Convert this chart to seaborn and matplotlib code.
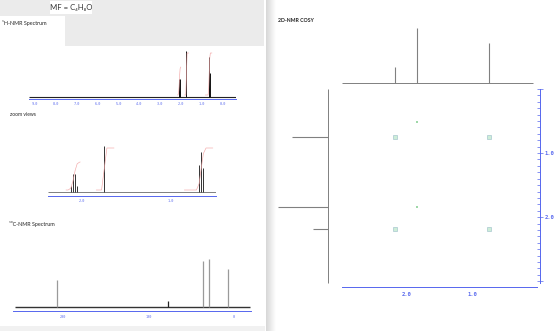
import numpy as np
import pandas as pd
import matplotlib
matplotlib.use("Agg")
import matplotlib.pyplot as plt
import seaborn as sns
from matplotlib.patches import Rectangle
from matplotlib.ticker import MultipleLocator

# ---------------- data ----------------
formula_text = "MF = C₄H₈O"
h1_title = "¹H-NMR Spectrum"
zoom_title = "zoom views"
c13_title = "¹³C-NMR Spectrum"
cosy_title = "2D-NMR COSY"

# 1H lines (ppm as labelled on the chart axis) and heights
h_ppm = [2.126, 2.102, 2.078, 2.054, 1.750, 0.684, 0.660, 0.636]
h_height = [6, 18, 18, 6, 46, 27, 40, 24]
h_group = ["q", "q", "q", "q", "s", "t", "t", "t"]

# integration curves
integ_group = ["q", "s", "t"]
integ_start = [2.18, 1.84, 0.85]
integ_end = [2.02, 1.64, 0.53]
integ_value = [2, 3, 3]

h_full_ticks = [9.0, 8.0, 7.0, 6.0, 5.0, 4.0, 3.0, 2.0, 1.0, 0.0]
h_full_labels = ["9.0", "8.0", "7.0", "6.0", "5.0", "4.0", "3.0", "2.0", "1.0", "0.0"]
h_zoom_ticks = [2.0, 1.0]
h_zoom_labels = ["2.0", "1.0"]

# 13C lines
c_ppm = [207.0, 77.0, 36.5, 29.3, 7.2]
c_height = [27, 6, 46, 48, 38]
c_solvent = [False, True, False, False, False]
c_ticks = [200, 100, 0]
c_labels = ["200", "100", "0"]

# COSY
cosy_ppm = [2.18, 1.845, 0.745]
cosy_proj = [16, 55, 40]
cross_f2 = [2.18, 0.745, 2.18, 0.745, 1.845, 1.845]
cross_f1 = [0.745, 0.745, 2.18, 2.18, 1.845, 0.52]
cross_kind = ["strong", "strong", "strong", "strong", "weak", "weak"]
cosy_ticks = [2.0, 1.0]
cosy_labels = ["2.0", "1.0"]

# ---------------- style ----------------
sns.set_style("white")
plt.rcParams["font.family"] = ["Lato", "DejaVu Sans"]

W, H = 560, 331
BLUE = "#5566ee"
RED = "#f3a8a8"
MONO = "DejaVu Sans Mono"

fig = plt.figure(figsize=(W / 100, H / 100), dpi=100)
fig.patch.set_facecolor("white")


def px_axes(x0, y0, x1, y1):
    ax = fig.add_axes([x0 / W, 1 - y1 / H, (x1 - x0) / W, (y1 - y0) / H])
    ax.set_facecolor("none")
    return ax


def px_rect(x0, y0, x1, y1, color):
    fig.add_artist(Rectangle((x0 / W, 1 - y1 / H), (x1 - x0) / W, (y1 - y0) / H,
                             transform=fig.transFigure, color=color, lw=0, zorder=0))


def px_text(x, y, s, **kw):
    fig.text(x / W, 1 - y / H, s, va="center", ha="left", **kw)


# backgrounds
GRAY = "#ebebeb"
px_rect(0, 0, 264, 16, GRAY)
px_rect(65, 16, 264, 46, GRAY)
px_rect(50, 1, 92, 14, "white")
px_rect(0, 326, 265, 331, "#f1f1f1")
grad_ax = px_axes(265.5, 0, 275, 331)
grad_ax.imshow(np.linspace(0.84, 1.0, 40)[None, :], cmap="gray", vmin=0, vmax=1,
               aspect="auto", extent=(0, 1, 0, 1))
grad_ax.axis("off")

# texts
px_text(50.5, 7.5, formula_text, fontsize=5.6, color="#333333")
px_text(2, 23, h1_title, fontsize=3.9, color="#222222")
px_text(10, 115, zoom_title, fontsize=3.6, color="#222222")
px_text(9, 224, c13_title, fontsize=3.9, color="#222222")
px_text(278, 20, cosy_title, fontsize=3.7, color="#222222", fontweight="bold")


def ppm_axis(ax, lo, hi, ticks, labels, minor, fs, major_len, minor_len, pad):
    ax.set_xlim(lo, hi)
    for side in ["top", "left", "right"]:
        ax.spines[side].set_visible(False)
    ax.spines["bottom"].set_color(BLUE)
    ax.spines["bottom"].set_linewidth(0.7)
    ax.set_xticks(list(ticks) + [lo, hi], list(labels) + ["", ""],
                  fontfamily=MONO, fontsize=fs, color=BLUE)
    ax.xaxis.set_minor_locator(MultipleLocator(minor))
    ax.tick_params(axis="x", which="both", direction="inout", colors=BLUE, width=0.5)
    ax.tick_params(axis="x", which="major", length=major_len, pad=pad)
    ax.tick_params(axis="x", which="minor", length=minor_len)
    ax.set_yticks([])


def draw_h(ax, lo, hi, line_color, base_color, base_lw):
    ax.hlines(0, lo, hi, color=base_color, lw=base_lw)
    ax.vlines(h_ppm, 0, h_height, color=line_color, lw=0.7)
    for g, s, e, v in zip(integ_group, integ_start, integ_end, integ_value):
        pk = sorted([(p, h) for p, h, gg in zip(h_ppm, h_height, h_group) if gg == g],
                    reverse=True)
        total = sum(h for _, h in pk)
        rise = v * 14
        xs, ys = [s, pk[0][0] + 0.03], [2, 2]
        cum = 0
        for p, h in pk:
            xs.append(p)
            ys.append(2 + rise * (cum + h / 2) / total)
            cum += h
        xs += [pk[-1][0] - 0.03, e]
        ys += [2 + rise, 2 + rise]
        ax.plot(xs, ys, color=RED, lw=0.45)


# ---- 1H full spectrum ----
ax1 = px_axes(29, 45, 236, 98.5)
lo1, hi1 = 9.287, -0.622
draw_h(ax1, lo1, hi1, "#111111", "#222222", 0.8)
ax1.set_ylim(-1.5, 52)
ppm_axis(ax1, lo1, hi1, h_full_ticks, h_full_labels, 0.1, 2.5, 3.5, 2.0, 0.8)

# ---- 1H zoom view ----
ax2 = px_axes(48, 140, 216, 196)
lo2, hi2 = 2.382, 0.494
draw_h(ax2, lo2, hi2, "#333333", "#6a6a6a", 0.6)
ax2.set_ylim(-4, 52)
ppm_axis(ax2, lo2, hi2, h_zoom_ticks, h_zoom_labels, 0.1, 2.5, 3.5, 2.0, 0.6)

# ---- 13C spectrum ----
ax3 = px_axes(13, 255, 251, 311)
lo3, hi3 = 258.5, -19.9
ax3.hlines(0, 256.0, -18.5, color="#333333", lw=1.0)
c_cols = ["#222222" if sv else "#9a9a9a" for sv in c_solvent]
ax3.vlines(c_ppm, 0, c_height, colors=c_cols, lw=0.9)
ax3.set_ylim(-4, 52)
ppm_axis(ax3, lo3, hi3, c_ticks, c_labels, 10, 2.5, 4.0, 2.5, 0.6)

# ---- COSY main ----
axc = px_axes(342, 89, 540, 287)
xlo, xhi = 3.0, -0.046
ylo, yhi = 3.09, 0.0
df = pd.DataFrame({"f2": cross_f2, "f1": cross_f1, "kind": cross_kind})
strong = df[df.kind == "strong"]
weak = df[df.kind == "weak"]
sns.scatterplot(data=strong, x="f2", y="f1", marker="s", s=9, color="#cdeed8",
                edgecolor="#98bcc8", linewidth=0.4, ax=axc, zorder=3)
sns.scatterplot(data=weak, x="f2", y="f1", marker="s", s=1.5, color="#9ed8a8",
                edgecolor="none", ax=axc, zorder=3)
axc.set_xlim(xlo, xhi)
axc.set_ylim(ylo, yhi)
axc.set_xlabel("")
axc.set_ylabel("")
axc.spines["top"].set_visible(False)
axc.spines["left"].set_visible(False)
for side in ["bottom", "right"]:
    axc.spines[side].set_color(BLUE)
    axc.spines[side].set_linewidth(0.7)
axc.spines["bottom"].set_bounds(3.0, 0.0)
axc.spines["right"].set_bounds(0.0, 3.03)
axc.set_xticks(cosy_ticks + [3.0, 0.0], cosy_labels + ["", ""],
               fontfamily=MONO, fontsize=4, color=BLUE, fontweight="bold")
axc.set_yticks(cosy_ticks[::-1] + [0.0, 3.0], cosy_labels[::-1] + ["", ""],
               fontfamily=MONO, fontsize=4, color=BLUE, fontweight="bold")
axc.yaxis.tick_right()
axc.xaxis.set_minor_locator(MultipleLocator(0.1))
axc.yaxis.set_minor_locator(MultipleLocator(0.1))
axc.tick_params(which="both", colors=BLUE, width=0.5)
axc.tick_params(which="major", direction="inout", length=4.5, pad=1.2)
axc.tick_params(which="minor", direction="in", length=2.2)

# ---- COSY top projection ----
axt = px_axes(342, 20, 540, 85)
axt.hlines(0, 3.0, 0.06, color="#808080", lw=0.7)
axt.vlines(cosy_ppm, 0, cosy_proj, color="#808080", lw=0.8)
axt.set_xlim(xlo, xhi)
axt.set_ylim(-2, 63)
axt.axis("off")

# ---- COSY left projection ----
axl = px_axes(270, 89, 330, 287)
axl.vlines(0, 0.0, 3.03, color="#808080", lw=0.7)
axl.hlines(cosy_ppm, 0, cosy_proj, color="#808080", lw=0.8)
axl.set_xlim(63.8, -2.2)
axl.set_ylim(ylo, yhi)
axl.axis("off")

fig.savefig("out.png", dpi=100, facecolor="white")
